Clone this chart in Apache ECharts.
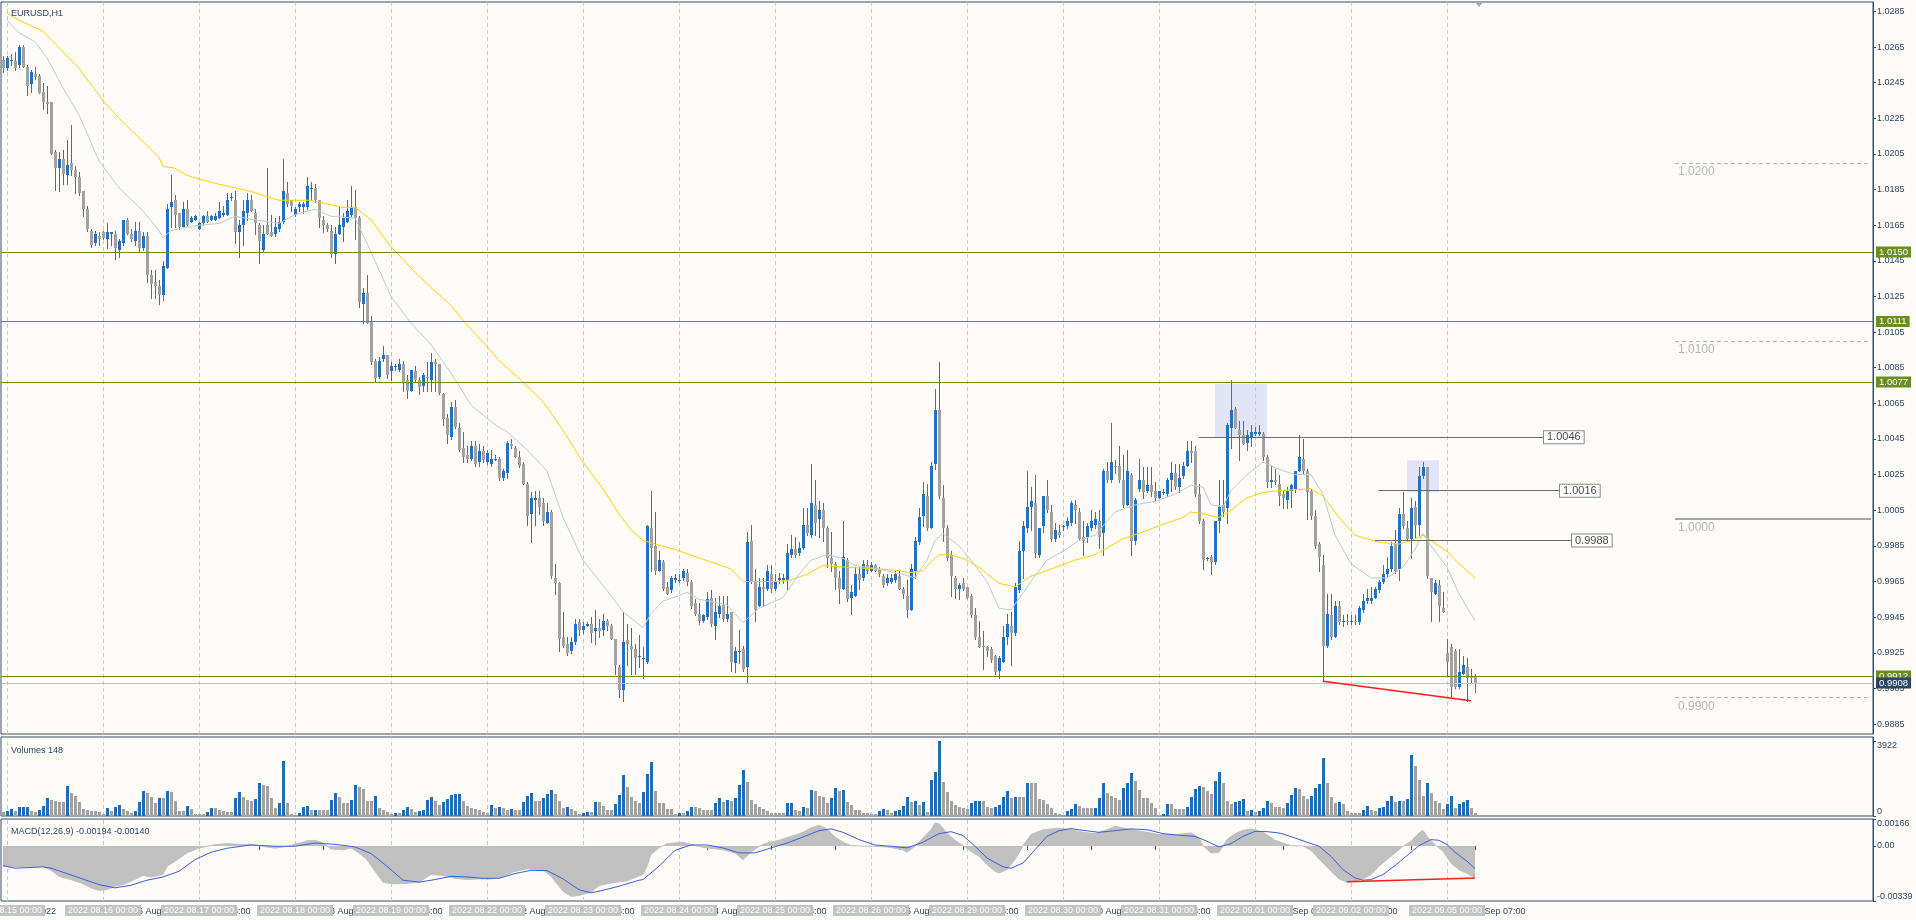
<!DOCTYPE html>
<html><head><meta charset="utf-8">
<script src="https://cdn.jsdelivr.net/npm/echarts@6/dist/echarts.min.js"></script>
<style>html,body{margin:0;padding:0;background:#fefbf9;}#c{width:1916px;height:920px;}</style>
</head><body><div id="c"></div>
<script>
const FONT = 'Liberation Sans';
const TXT = '#2b4763';
const BORDER = '#35506b';

const days = ['2022.08.15','2022.08.16','2022.08.17','2022.08.18','2022.08.19','2022.08.22','2022.08.23','2022.08.24','2022.08.25','2022.08.26','2022.08.29','2022.08.30','2022.08.31','2022.09.01','2022.09.02','2022.09.05'];
const firstBar = '2022.08.12 23:00';
const barsLastDay = 8;
const blankSlots = 99;

const priceTicks = [0.9885,0.9905,0.9925,0.9945,0.9965,0.9985,1.0005,1.0025,1.0045,1.0065,1.0085,1.0105,1.0125,1.0145,1.0165,1.0185,1.0205,1.0225,1.0245,1.0265,1.0285];
const volTicks = [0, 3922];
const macdTicks = [-0.00339, 0, 0.00166];

// [open, high, low, close]
const ohlc = [
[1.0258,1.0260,1.0251,1.0253],[1.0253,1.0260,1.0252,1.0259],[1.0258,1.0261,1.0255,1.0258],[1.0257,1.0262,1.0252,1.0253],[1.0255,1.0266,1.0254,1.0265],
[1.0265,1.0266,1.0254,1.0254],[1.0254,1.0255,1.0238,1.0243],[1.0244,1.0252,1.0240,1.0251],[1.0250,1.0254,1.0247,1.0248],[1.0249,1.0250,1.0239,1.0239],
[1.0240,1.0245,1.0230,1.0234],[1.0234,1.0243,1.0228,1.0233],[1.0234,1.0234,1.0205,1.0205],[1.0206,1.0207,1.0185,1.0197],[1.0197,1.0206,1.0184,1.0202],
[1.0202,1.0207,1.0188,1.0194],[1.0193,1.0213,1.0188,1.0199],[1.0200,1.0221,1.0193,1.0196],[1.0196,1.0198,1.0183,1.0192],[1.0192,1.0195,1.0182,1.0183],
[1.0184,1.0184,1.0170,1.0174],[1.0174,1.0176,1.0162,1.0163],[1.0162,1.0163,1.0153,1.0154],[1.0155,1.0162,1.0154,1.0160],[1.0159,1.0161,1.0154,1.0157],
[1.0161,1.0162,1.0157,1.0158],[1.0157,1.0166,1.0152,1.0161],[1.0160,1.0161,1.0154,1.0161],[1.0160,1.0162,1.0146,1.0152],[1.0151,1.0157,1.0147,1.0156],
[1.0155,1.0168,1.0154,1.0168],[1.0168,1.0169,1.0160,1.0160],[1.0160,1.0163,1.0156,1.0157],[1.0156,1.0167,1.0154,1.0162],[1.0162,1.0167,1.0150,1.0152],
[1.0152,1.0161,1.0151,1.0159],[1.0159,1.0161,1.0133,1.0137],[1.0137,1.0140,1.0124,1.0132],[1.0133,1.0140,1.0124,1.0131],[1.0131,1.0134,1.0121,1.0126],
[1.0126,1.0145,1.0123,1.0142],[1.0141,1.0177,1.0141,1.0174],[1.0175,1.0193,1.0164,1.0178],[1.0179,1.0182,1.0164,1.0171],[1.0172,1.0172,1.0163,1.0164],
[1.0164,1.0178,1.0164,1.0174],[1.0174,1.0179,1.0165,1.0165],[1.0167,1.0170,1.0167,1.0169],[1.0168,1.0171,1.0168,1.0170],[1.0163,1.0167,1.0163,1.0166],
[1.0166,1.0171,1.0165,1.0170],[1.0170,1.0173,1.0167,1.0167],[1.0168,1.0171,1.0168,1.0170],[1.0168,1.0172,1.0168,1.0170],[1.0169,1.0178,1.0169,1.0173],
[1.0171,1.0176,1.0170,1.0172],[1.0171,1.0183,1.0171,1.0179],[1.0180,1.0183,1.0179,1.0181],[1.0179,1.0184,1.0155,1.0161],[1.0161,1.0168,1.0147,1.0165],
[1.0165,1.0179,1.0154,1.0173],[1.0172,1.0183,1.0168,1.0179],[1.0179,1.0182,1.0173,1.0173],[1.0172,1.0174,1.0160,1.0166],[1.0165,1.0166,1.0144,1.0156],
[1.0151,1.0165,1.0150,1.0160],[1.0165,1.0197,1.0160,1.0160],[1.0161,1.0171,1.0159,1.0159],[1.0160,1.0169,1.0159,1.0164],[1.0163,1.0170,1.0162,1.0167],
[1.0167,1.0202,1.0166,1.0184],[1.0183,1.0189,1.0176,1.0177],[1.0179,1.0179,1.0173,1.0176],[1.0171,1.0175,1.0170,1.0174],[1.0175,1.0178,1.0173,1.0177],
[1.0175,1.0178,1.0172,1.0177],[1.0175,1.0192,1.0174,1.0187],[1.0186,1.0189,1.0179,1.0186],[1.0186,1.0188,1.0178,1.0179],[1.0179,1.0179,1.0164,1.0169],
[1.0168,1.0170,1.0161,1.0165],[1.0165,1.0166,1.0162,1.0163],[1.0162,1.0165,1.0147,1.0149],[1.0149,1.0164,1.0144,1.0160],[1.0160,1.0175,1.0160,1.0165],
[1.0164,1.0172,1.0156,1.0169],[1.0167,1.0179,1.0167,1.0173],[1.0171,1.0187,1.0170,1.0175],[1.0175,1.0185,1.0157,1.0169],[1.0169,1.0170,1.0119,1.0122],
[1.0121,1.0130,1.0110,1.0127],[1.0127,1.0137,1.0110,1.0110],[1.0111,1.0114,1.0087,1.0088],[1.0089,1.0090,1.0077,1.0079],[1.0080,1.0091,1.0079,1.0089],
[1.0090,1.0097,1.0089,1.0092],[1.0092,1.0092,1.0079,1.0081],[1.0083,1.0088,1.0078,1.0086],[1.0086,1.0087,1.0084,1.0086],[1.0084,1.0090,1.0083,1.0087],
[1.0087,1.0089,1.0072,1.0077],[1.0078,1.0081,1.0068,1.0072],[1.0072,1.0084,1.0072,1.0084],[1.0083,1.0086,1.0077,1.0078],[1.0078,1.0080,1.0070,1.0074],
[1.0075,1.0082,1.0072,1.0081],[1.0080,1.0088,1.0072,1.0079],[1.0078,1.0093,1.0072,1.0088],[1.0088,1.0090,1.0072,1.0087],[1.0087,1.0087,1.0070,1.0071],
[1.0070,1.0071,1.0053,1.0056],[1.0057,1.0059,1.0043,1.0047],[1.0046,1.0066,1.0045,1.0063],[1.0063,1.0067,1.0051,1.0052],[1.0051,1.0054,1.0038,1.0039],
[1.0040,1.0049,1.0032,1.0035],[1.0036,1.0041,1.0032,1.0034],[1.0034,1.0044,1.0033,1.0041],[1.0041,1.0044,1.0030,1.0031],[1.0032,1.0042,1.0030,1.0038],
[1.0038,1.0041,1.0032,1.0033],[1.0032,1.0039,1.0031,1.0037],[1.0031,1.0039,1.0030,1.0034],[1.0034,1.0036,1.0033,1.0034],[1.0034,1.0035,1.0022,1.0023],
[1.0023,1.0028,1.0022,1.0027],[1.0026,1.0044,1.0023,1.0043],[1.0042,1.0045,1.0040,1.0041],[1.0040,1.0041,1.0035,1.0035],[1.0035,1.0038,1.0029,1.0030],
[1.0031,1.0032,1.0020,1.0020],[1.0020,1.0021,0.9997,1.0002],[1.0003,1.0015,0.9987,1.0012],[1.0011,1.0016,0.9997,1.0012],[1.0012,1.0016,1.0003,1.0007],
[1.0009,1.0012,0.9997,0.9999],[0.9998,1.0009,0.9998,1.0004],[1.0004,1.0005,0.9967,0.9968],[0.9967,0.9975,0.9958,0.9964],[0.9964,0.9965,0.9926,0.9933],
[0.9934,0.9948,0.9928,0.9929],[0.9930,0.9934,0.9924,0.9925],[0.9926,0.9934,0.9925,0.9931],[0.9931,0.9944,0.9930,0.9941],[0.9942,0.9944,0.9935,0.9938],
[0.9938,0.9942,0.9936,0.9940],[0.9940,0.9942,0.9940,0.9941],[0.9941,0.9945,0.9931,0.9936],[0.9937,0.9949,0.9930,0.9939],[0.9939,0.9944,0.9934,0.9937],
[0.9938,0.9947,0.9935,0.9943],[0.9943,0.9944,0.9938,0.9940],[0.9940,0.9941,0.9933,0.9933],[0.9933,0.9933,0.9913,0.9918],[0.9917,0.9918,0.9900,0.9904],
[0.9904,0.9948,0.9898,0.9931],[0.9932,0.9941,0.9918,0.9930],[0.9929,0.9939,0.9913,0.9927],[0.9927,0.9930,0.9913,0.9922],[0.9923,0.9935,0.9917,0.9923],
[0.9922,0.9928,0.9911,0.9922],[0.9920,0.9997,0.9919,0.9996],[0.9995,1.0016,0.9971,0.9984],[0.9985,1.0004,0.9969,0.9971],[0.9971,0.9982,0.9971,0.9977],
[0.9976,0.9977,0.9960,0.9961],[0.9962,0.9965,0.9958,0.9958],[0.9960,0.9968,0.9959,0.9967],[0.9966,0.9969,0.9965,0.9967],[0.9966,0.9969,0.9965,0.9966],
[0.9967,0.9972,0.9966,0.9971],[0.9970,0.9972,0.9963,0.9965],[0.9965,0.9966,0.9950,0.9951],[0.9953,0.9955,0.9946,0.9947],[0.9947,0.9953,0.9941,0.9943],
[0.9943,0.9947,0.9942,0.9946],[0.9945,0.9959,0.9944,0.9955],[0.9956,0.9960,0.9940,0.9941],[0.9940,0.9956,0.9933,0.9948],[0.9947,0.9957,0.9945,0.9951],
[0.9952,0.9957,0.9943,0.9944],[0.9944,0.9957,0.9943,0.9947],[0.9948,0.9948,0.9915,0.9920],[0.9919,0.9928,0.9914,0.9926],[0.9926,0.9938,0.9919,0.9926],
[0.9927,0.9929,0.9915,0.9916],[0.9917,0.9993,0.9908,0.9987],[0.9988,0.9997,0.9964,0.9965],[0.9965,0.9972,0.9943,0.9949],[0.9951,0.9967,0.9951,0.9962],
[0.9962,0.9967,0.9951,0.9961],[0.9961,0.9974,0.9960,0.9971],[0.9969,0.9974,0.9959,0.9961],[0.9961,0.9969,0.9960,0.9965],[0.9966,0.9970,0.9964,0.9967],
[0.9966,0.9969,0.9964,0.9967],[0.9966,0.9986,0.9961,0.9981],[0.9980,0.9991,0.9979,0.9983],[0.9983,0.9990,0.9979,0.9980],[0.9981,0.9987,0.9980,0.9984],
[0.9984,1.0006,0.9983,0.9997],[0.9997,1.0006,0.9991,0.9992],[0.9991,1.0031,0.9990,1.0009],[1.0008,1.0022,0.9991,0.9998],[1.0000,1.0010,0.9990,1.0005],
[1.0005,1.0009,0.9988,0.9995],[0.9995,0.9996,0.9973,0.9978],[0.9978,0.9993,0.9971,0.9975],[0.9975,0.9976,0.9961,0.9967],[0.9967,0.9971,0.9953,0.9961],
[0.9961,0.9999,0.9961,0.9979],[0.9977,0.9978,0.9954,0.9955],[0.9956,0.9963,0.9947,0.9959],[0.9957,0.9973,0.9957,0.9969],[0.9969,0.9973,0.9961,0.9966],
[0.9967,0.9977,0.9966,0.9975],[0.9974,0.9977,0.9970,0.9971],[0.9971,0.9976,0.9971,0.9974],[0.9974,0.9975,0.9971,0.9971],[0.9972,0.9973,0.9968,0.9969],
[0.9968,0.9969,0.9962,0.9963],[0.9964,0.9969,0.9963,0.9967],[0.9965,0.9969,0.9964,0.9967],[0.9966,0.9971,0.9965,0.9969],[0.9968,0.9971,0.9961,0.9961],
[0.9961,0.9962,0.9956,0.9958],[0.9957,0.9966,0.9945,0.9949],[0.9949,0.9975,0.9949,0.9972],[0.9971,0.9990,0.9967,0.9988],[0.9987,1.0006,0.9986,1.0001],
[1.0002,1.0021,0.9996,1.0014],[1.0013,1.0020,0.9994,0.9995],[0.9995,1.0032,0.9995,1.0030],[1.0031,1.0073,1.0028,1.0061],[1.0061,1.0088,1.0012,1.0013],
[1.0012,1.0019,0.9988,0.9995],[0.9995,0.9997,0.9977,0.9978],[0.9980,0.9982,0.9957,0.9968],[0.9967,0.9968,0.9956,0.9961],[0.9961,0.9964,0.9955,0.9963],
[0.9964,0.9967,0.9960,0.9961],[0.9962,0.9962,0.9956,0.9956],[0.9957,0.9958,0.9945,0.9946],[0.9946,0.9950,0.9933,0.9934],[0.9934,0.9943,0.9928,0.9928],
[0.9929,0.9937,0.9916,0.9928],[0.9928,0.9929,0.9923,0.9926],[0.9927,0.9928,0.9920,0.9921],[0.9923,0.9924,0.9913,0.9914],[0.9915,0.9923,0.9911,0.9922],
[0.9920,0.9940,0.9920,0.9934],[0.9934,0.9947,0.9930,0.9941],[0.9940,0.9948,0.9918,0.9936],[0.9936,0.9964,0.9935,0.9962],[0.9960,0.9988,0.9959,0.9982],
[0.9982,0.9999,0.9967,0.9996],[0.9995,1.0027,0.9993,1.0007],[1.0007,1.0018,0.9994,1.0010],[1.0009,1.0025,0.9979,0.9981],[0.9980,0.9995,0.9979,0.9995],
[0.9996,1.0013,0.9993,1.0013],[1.0013,1.0022,1.0004,1.0005],[1.0004,1.0008,0.9988,0.9989],[0.9989,0.9998,0.9988,0.9994],[0.9993,0.9997,0.9990,0.9991],
[0.9996,0.9997,0.9994,0.9996],[0.9996,1.0001,0.9995,0.9999],[0.9998,1.0010,0.9997,1.0009],[1.0008,1.0011,0.9998,1.0005],[1.0004,1.0006,0.9989,0.9989],
[0.9990,0.9999,0.9980,0.9988],[0.9990,0.9998,0.9987,0.9996],[0.9995,1.0005,0.9994,0.9999],[0.9997,1.0004,0.9995,1.0000],[0.9999,1.0005,0.9984,0.9990],
[0.9992,1.0028,0.9980,1.0027],[1.0027,1.0032,1.0021,1.0022],[1.0022,1.0054,1.0021,1.0032],[1.0030,1.0033,1.0026,1.0029],[1.0030,1.0041,1.0021,1.0022],
[1.0022,1.0036,1.0007,1.0008],[1.0008,1.0039,1.0008,1.0027],[1.0025,1.0026,0.9980,0.9988],[0.9988,1.0012,0.9986,1.0011],[1.0017,1.0034,1.0016,1.0022],
[1.0022,1.0029,1.0012,1.0015],[1.0016,1.0029,1.0015,1.0019],[1.0019,1.0029,1.0013,1.0015],[1.0016,1.0021,1.0011,1.0012],[1.0012,1.0016,1.0012,1.0016],
[1.0015,1.0017,1.0014,1.0015],[1.0014,1.0023,1.0013,1.0022],[1.0022,1.0032,1.0016,1.0026],[1.0026,1.0031,1.0017,1.0018],[1.0018,1.0031,1.0015,1.0023],
[1.0024,1.0032,1.0023,1.0030],[1.0030,1.0044,1.0030,1.0038],[1.0038,1.0044,1.0032,1.0037],[1.0038,1.0041,1.0013,1.0014],[1.0014,1.0020,0.9998,0.9999],
[0.9999,1.0000,0.9972,0.9977],[0.9978,0.9979,0.9977,0.9978],[0.9979,0.9980,0.9969,0.9976],[0.9976,0.9999,0.9975,0.9999],[0.9999,1.0022,0.9993,1.0007],
[1.0008,1.0022,1.0002,1.0004],[1.0006,1.0054,0.9998,1.0053],[1.0051,1.0078,1.0040,1.0061],[1.0062,1.0063,1.0051,1.0051],[1.0050,1.0055,1.0033,1.0047],
[1.0047,1.0055,1.0042,1.0042],[1.0043,1.0050,1.0039,1.0047],[1.0046,1.0053,1.0041,1.0049],[1.0048,1.0052,1.0047,1.0049],[1.0048,1.0053,1.0047,1.0049],
[1.0048,1.0049,1.0033,1.0035],[1.0035,1.0036,1.0018,1.0021],[1.0021,1.0030,1.0018,1.0022],[1.0022,1.0028,1.0020,1.0021],[1.0020,1.0025,1.0008,1.0013],
[1.0014,1.0016,1.0006,1.0012],[1.0011,1.0018,1.0006,1.0016],[1.0016,1.0020,1.0007,1.0019],[1.0017,1.0027,1.0015,1.0027],[1.0027,1.0047,1.0027,1.0035],
[1.0034,1.0045,1.0026,1.0027],[1.0027,1.0028,1.0000,1.0015],[1.0016,1.0017,1.0000,1.0002],[1.0002,1.0005,0.9984,0.9985],[0.9986,0.9987,0.9971,0.9979],
[0.9974,0.9980,0.9909,0.9929],[0.9929,0.9958,0.9928,0.9947],[0.9946,0.9958,0.9933,0.9934],[0.9934,0.9954,0.9934,0.9951],[0.9951,0.9954,0.9941,0.9942],
[0.9942,0.9946,0.9940,0.9943],[0.9943,0.9947,0.9941,0.9942],[0.9942,0.9946,0.9941,0.9943],[0.9943,0.9946,0.9941,0.9942],[0.9942,0.9951,0.9941,0.9950],
[0.9949,0.9958,0.9948,0.9954],[0.9954,0.9961,0.9953,0.9956],[0.9954,0.9962,0.9953,0.9956],[0.9956,0.9962,0.9956,0.9961],[0.9960,0.9966,0.9959,0.9965],
[0.9965,0.9974,0.9964,0.9969],[0.9969,0.9979,0.9968,0.9972],[0.9972,0.9987,0.9971,0.9985],[0.9986,0.9994,0.9970,0.9971],[0.9972,1.0006,0.9966,1.0003],
[1.0003,1.0015,0.9995,0.9996],[0.9995,0.9999,0.9988,0.9989],[0.9989,1.0012,0.9978,1.0006],[1.0007,1.0010,0.9990,0.9997],[0.9997,1.0029,0.9991,1.0024],
[1.0024,1.0032,1.0023,1.0029],[1.0029,1.0029,0.9967,0.9968],[0.9967,0.9967,0.9943,0.9959],[0.9958,0.9966,0.9958,0.9964],[0.9963,0.9966,0.9943,0.9951],
[0.9950,0.9959,0.9948,0.9948],[0.9925,0.9933,0.9912,0.9920],[0.9928,0.9930,0.9901,0.9906],[0.9926,0.9927,0.9905,0.9906],[0.9906,0.9927,0.9905,0.9914],
[0.9913,0.9923,0.9913,0.9918],[0.9917,0.9922,0.9898,0.9911],[0.9912,0.9916,0.9908,0.9911],[0.9912,0.9913,0.9903,0.9908]
];

const volumes = [
230,265,371,265,465,470,477,265,230,318,548,954,830,795,707,707,1590,1184,1060,707,
371,336,265,265,230,124,406,265,477,583,371,265,159,265,707,1325,1184,1007,654,937,
937,1325,1237,795,265,265,512,389,124,124,124,212,406,406,336,265,230,230,954,1237,
1007,830,795,901,1749,1643,1555,919,406,654,2863,654,124,53,177,477,530,300,318,318,
318,300,848,1184,972,654,654,848,1643,1502,1414,795,795,1060,442,300,212,88,159,159,
336,495,353,230,265,300,830,1007,760,583,742,884,1113,1131,1166,795,530,442,353,300,
230,177,583,442,477,406,300,353,300,300,724,1060,1219,795,795,919,1149,1361,1149,795,
442,477,353,265,124,177,230,230,707,707,530,300,300,618,1113,2120,1502,972,795,654,
1237,2173,2810,1325,654,654,371,371,88,159,159,265,477,477,406,300,300,300,654,937,
707,830,795,937,1643,2421,1767,830,618,477,353,265,177,177,141,141,654,689,300,265,
477,406,1378,1290,1060,1007,654,954,1484,1290,1378,742,583,300,300,159,159,124,124,265,
353,300,177,265,300,530,1007,742,760,583,742,230,1908,2297,3922,1767,1272,795,583,477,
406,353,689,760,795,795,477,406,477,583,1007,1325,919,1007,1007,1007,1714,1714,1714,884,
830,618,406,141,88,53,265,353,618,530,442,442,406,442,937,1749,1184,1060,937,830,
1467,1714,2244,1855,1361,937,937,654,406,18,124,618,618,353,353,353,477,972,1431,1555,
1502,1325,1149,1838,2279,1749,795,618,724,795,866,265,300,230,265,406,795,654,477,477,
406,654,1113,1467,1396,1060,901,1043,1467,1679,3039,1749,1007,689,724,618,265,159,159,159,
300,512,336,265,442,477,795,1060,742,760,760,884,3198,2597,1908,1060,1749,1219,760,654,
353,618,1060,406,618,742,830,406,148
];

// moving averages read at sample bars: [bar, price]
const maSlow = [[1,1.0284],[4,1.0280],[10,1.0274],[13,1.0267],[19,1.0253],[25,1.0235],[29,1.0225],[35,1.0212],[39,1.0203],[40,1.0198],[43,1.0197],[46,1.0193],[49,1.0191],[54,1.0188],[58,1.0186],[62,1.0184],[66,1.0181],[69,1.0179],[77,1.0179],[81,1.0177],[85,1.0175],[88,1.0175],[92,1.0168],[97,1.0153],[102,1.0141],[107,1.0130],[112,1.0120],[116,1.0109],[121,1.0097],[124,1.0089],[130,1.0077],[135,1.0066],[140,1.0050],[145,1.0032],[150,1.0017],[154,1.0003],[157,0.9994],[160,0.9988],[163,0.9986],[168,0.9983],[173,0.9979],[177,0.9976],[182,0.9972],[185,0.9965],[194,0.9965],[197,0.9966],[201,0.9969],[205,0.9974],[211,0.9973],[219,0.9972],[224,0.9971],[227,0.9970],[230,0.9971],[232,0.9976],[234,0.9980],[237,0.9980],[241,0.9977],[244,0.9973],[249,0.9964],[253,0.9962],[257,0.9968],[262,0.9972],[268,0.9977],[273,0.9980],[280,0.9989],[284,0.9992],[290,0.9997],[295,1.0001],[297,1.0004],[300,1.0003],[304,1.0001],[307,1.0005],[311,1.0012],[315,1.0015],[319,1.0016],[327,1.0017],[330,1.0013],[334,1.0001],[338,0.9991],[344,0.9987],[349,0.9986],[352,0.9988],[355,0.9991],[357,0.9988],[361,0.9982],[364,0.9975],[368,0.9967]];
const maFast = [[1,1.0280],[4,1.0273],[8,1.0268],[11,1.0259],[15,1.0242],[19,1.0227],[24,1.0201],[29,1.0186],[35,1.0173],[39,1.0162],[40,1.0158],[42,1.0162],[46,1.0164],[49,1.0165],[54,1.0166],[58,1.0170],[63,1.0168],[69,1.0166],[73,1.0171],[78,1.0174],[82,1.0170],[88,1.0169],[92,1.0150],[97,1.0125],[102,1.0110],[107,1.0098],[112,1.0082],[117,1.0064],[123,1.0053],[126,1.0049],[131,1.0039],[136,1.0027],[140,1.0001],[145,0.9977],[151,0.9960],[155,0.9948],[160,0.9939],[162,0.9947],[165,0.9954],[169,0.9957],[171,0.9959],[174,0.9955],[181,0.9952],[185,0.9942],[189,0.9950],[195,0.9956],[199,0.9969],[202,0.9977],[206,0.9980],[210,0.9978],[213,0.9974],[219,0.9972],[225,0.9969],[228,0.9967],[231,0.9977],[233,0.9988],[235,0.9992],[239,0.9985],[242,0.9977],[246,0.9965],[249,0.9950],[252,0.9949],[257,0.9965],[261,0.9977],[265,0.9982],[269,0.9988],[273,0.9991],[278,1.0004],[283,1.0008],[288,1.0010],[293,1.0014],[297,1.0019],[300,1.0018],[302,1.0008],[305,1.0007],[307,1.0016],[311,1.0025],[315,1.0032],[319,1.0028],[323,1.0025],[327,1.0025],[330,1.0014],[333,0.9991],[337,0.9975],[342,0.9967],[346,0.9967],[350,0.9973],[353,0.9983],[355,0.9992],[357,0.9985],[361,0.9973],[364,0.9958],[368,0.9943]];

// MACD read at sample bars: [bar, value]
const macdMain = [[0,-0.00125],[5,-0.00129],[10,-0.00125],[12,-0.0015],[14,-0.00187],[17,-0.00207],[20,-0.00232],[22,-0.00258],[24,-0.00273],[26,-0.00269],[28,-0.00248],[30,-0.00238],[32,-0.00217],[35,-0.00182],[37,-0.00191],[40,-0.00176],[41,-0.00125],[43,-0.00094],[46,-0.00043],[49,-0.00012],[53,0.00008],[56,0.00014],[59,0.0001],[62,0.0001],[65,-0.00002],[68,-0.00014],[71,-0.00002],[73,0.0001],[76,0.00031],[78,0.00035],[80,0.00018],[82,-0.00018],[85,-0.00023],[87,-0.00012],[89,-0.00043],[91,-0.00084],[93,-0.00156],[95,-0.00223],[97,-0.00232],[100,-0.00232],[104,-0.00223],[107,-0.00176],[110,-0.00182],[113,-0.00199],[116,-0.00207],[119,-0.00203],[122,-0.00203],[125,-0.00187],[128,-0.00156],[131,-0.00141],[135,-0.00146],[137,-0.00187],[140,-0.00279],[142,-0.0031],[144,-0.00305],[147,-0.00285],[149,-0.00244],[152,-0.00228],[156,-0.00215],[159,-0.00185],[160,-0.00176],[161,-0.00125],[162,-0.00053],[164,-0.00012],[166,0.00014],[170,0.00023],[173,0.00002],[176,-0.00012],[180,-0.00023],[183,-0.00043],[185,-0.00084],[187,-0.00039],[189,-0.00002],[191,0.00018],[194,0.00035],[197,0.00059],[200,0.00084],[202,0.00111],[204,0.00127],[206,0.00105],[208,0.00055],[210,0.00023],[212,0.00002],[216,-0.00002],[221,-0.00006],[225,-0.00023],[226,-0.00039],[228,-0.00002],[230,0.00049],[232,0.001],[233,0.00141],[234,0.00137],[236,0.0008],[238,0.00035],[240,0.00002],[242,-0.00033],[244,-0.00064],[246,-0.00115],[248,-0.00156],[249,-0.00166],[251,-0.00146],[253,-0.00084],[255,0.00002],[257,0.0007],[260,0.001],[264,0.00109],[267,0.001],[270,0.00084],[273,0.00076],[276,0.001],[278,0.00121],[280,0.00111],[283,0.00096],[286,0.00084],[289,0.0007],[293,0.0007],[297,0.0008],[299,0.00049],[300,0.00002],[302,-0.00043],[304,-0.00039],[306,0.00039],[308,0.00076],[310,0.00096],[312,0.00105],[315,0.00084],[318,0.00035],[320,0.00018],[322,0.00002],[325,0],[327,-0.00027],[329,-0.0008],[332,-0.00156],[334,-0.00203],[336,-0.00223],[338,-0.00217],[340,-0.00203],[342,-0.00176],[344,-0.00125],[346,-0.00084],[348,-0.00043],[350,-0.00002],[352,0.00029],[354,0.0008],[355,0.00096],[356,0.00059],[358,0.00008],[360,-0.00033],[362,-0.00105],[364,-0.00146],[366,-0.0017],[368,-0.00194]];
const macdSignal = [[0,-0.00121],[3,-0.00137],[10,-0.00129],[12,-0.00137],[18,-0.00187],[24,-0.00238],[28,-0.00258],[32,-0.00242],[36,-0.00211],[40,-0.00191],[44,-0.00156],[48,-0.00084],[52,-0.00039],[56,-0.00014],[62,0.00006],[68,-0.00002],[73,-0.00002],[78,0.00018],[83,0.0001],[88,-0.00006],[92,-0.00047],[96,-0.00125],[100,-0.00211],[104,-0.00223],[108,-0.00207],[112,-0.00187],[116,-0.00191],[120,-0.00199],[124,-0.00199],[128,-0.0017],[132,-0.0015],[136,-0.00152],[140,-0.00203],[144,-0.00269],[147,-0.00289],[150,-0.00273],[154,-0.00248],[159,-0.00211],[160,-0.00207],[164,-0.00125],[168,-0.00027],[172,0.00006],[176,0.00006],[180,-0.00012],[184,-0.00043],[188,-0.00043],[192,-0.00012],[196,0.00018],[200,0.00055],[204,0.00094],[207,0.00105],[210,0.00084],[214,0.00039],[218,0.00006],[222,-0.00002],[226,-0.00012],[230,0.00023],[234,0.00076],[237,0.00088],[240,0.00064],[243,-0.00002],[246,-0.00074],[250,-0.00129],[252,-0.00137],[255,-0.00105],[258,-0.00023],[261,0.00059],[264,0.00094],[267,0.00107],[270,0.00096],[274,0.00084],[278,0.00094],[282,0.00105],[286,0.001],[290,0.00076],[294,0.00066],[298,0.00059],[301,0.00029],[304,-0.00006],[307,0.00014],[310,0.00059],[313,0.0009],[316,0.00088],[319,0.0008],[320,0.00074],[323,0.00049],[326,0.00023],[329,-0.00002],[332,-0.00064],[335,-0.00146],[338,-0.00197],[340,-0.00211],[342,-0.00207],[345,-0.00176],[348,-0.00121],[351,-0.00059],[354,0.00002],[357,0.00039],[359,0.00035],[361,0.00008],[363,-0.00039],[366,-0.00094],[368,-0.0014]];

const hLevels = [1.0150, 1.0111, 1.0077, 0.9912];
const bidPrice = 0.9908;
const roundLevels = [1.0200, 1.0100, 1.0000, 0.9900];
const roundFrom = 418;
const trendLevels = [[299, 385, 1.0046], [344, 389, 1.0016], [343, 392, 0.9988]];
const boxes = [[303, 316, 1.0076, 1.0046], [351, 359, 1.0033, 1.0015]];
const priceDivergence = [[330, 0.9909], [367, 0.9898]];
const macdDivergence = [[336, -0.00221], [368, -0.00197]];

// ---- build categories ----
const MON = {'08': 'Aug', '09': 'Sep'};
const times = [firstBar];
days.forEach((d, k) => {
  const n = k === days.length - 1 ? barsLastDay : 24;
  for (let h = 0; h < n; h++) times.push(d + ' ' + String(h).padStart(2, '0') + ':00');
});
const cats = times.slice();
for (let k = 0; k < blankSlots; k++) cats.push('blank' + k);
const lastBar = times.length - 1;
const dayStarts = [];
times.forEach((t, i) => { if (t.endsWith(' 00:00')) dayStarts.push(i); });
const dayStartSet = new Set(dayStarts);
function shortLabel(t, i) {
  const parts = t.split(' '); const ymd = parts[0].split('.');
  return parseInt(ymd[2], 10) + ' ' + MON[ymd[1]] + ' ' + (i === 0 ? ymd[0] : parts[1]);
}
const isTick = (i) => i % 16 === 0 && i <= lastBar;
function onBars(samples) {
  const arr = new Array(times.length).fill(null);
  samples.forEach(s => { arr[s[0]] = s[1]; });
  return arr;
}

const candleData = ohlc.map((r, i) => [i, r[0], r[1], r[2], r[3]]);
const volData = volumes.map((v, i) => [i, v, i > 0 && v > volumes[i - 1] ? 1 : 0]);

const BULL = '#2272c3', BEAR = '#a2a2a2', WICK = '#5f6a6a';
const sepLine = (z) => ({
  silent: true, symbol: 'none', z: z, label: {show: false},
  lineStyle: {color: '#c9c9c9', type: [4, 3], width: 1},
  data: dayStarts.map(i => ({xAxis: i}))
});
const smallTxt = {fontFamily: FONT, fontSize: 9, color: TXT};

const levelMarks = [];
hLevels.forEach(p => levelMarks.push({
  name: 'lvl' + p, yAxis: p, lineStyle: {color: '#6b8e23', width: 1, type: 'solid'},
  label: {show: true, position: 'end', distance: 3, formatter: p.toFixed(4), backgroundColor: '#6b8e23', color: '#ffffff', padding: [1, 3, 0, 3], fontFamily: FONT, fontSize: 9.5}
}));
levelMarks.push({
  name: 'bid', yAxis: bidPrice, lineStyle: {color: '#c0c0c0', width: 1, type: 'solid'},
  label: {show: true, position: 'end', distance: 3, formatter: bidPrice.toFixed(4), backgroundColor: '#2a4866', color: '#ffffff', padding: [1, 3, 0, 3], fontFamily: FONT, fontSize: 9.5}
});

const segMarks = [];
roundLevels.forEach(p => segMarks.push([
  {coord: [roundFrom, p], lineStyle: {color: p === 1 ? '#a6a6a6' : '#b4b4b4', width: p === 1 ? 2 : 1, type: p === 1 ? 'solid' : [4, 3]},
   label: {show: true, position: 'insideStartBottom', distance: 3, formatter: p.toFixed(4), color: '#b6b6b6', fontFamily: FONT, fontSize: 12}},
  {coord: [cats.length - 1, p]}
]));
trendLevels.forEach(t => segMarks.push([
  {coord: [t[0], t[2]], lineStyle: {color: '#6a6a6a', width: 1, type: 'solid'},
   label: {show: true, position: 'end', distance: 1, formatter: t[2].toFixed(4), color: '#4a4a4a', backgroundColor: '#ffffff', borderColor: '#8a8a8a', borderWidth: 1, padding: [1, 3, 0, 3], fontFamily: FONT, fontSize: 11}},
  {coord: [t[1], t[2]]}
]));
segMarks.push([
  {coord: priceDivergence[0], lineStyle: {color: '#ff1a1a', width: 1.5, type: 'solid'}, label: {show: false}},
  {coord: priceDivergence[1]}
]);

const gridBase = {left: 1, right: 43, show: true, borderColor: BORDER, borderWidth: 1, backgroundColor: '#fefbf9', containLabel: false, outerBoundsMode: 'none'};

const chart = echarts.init(document.getElementById('c'), null, {renderer: 'canvas'});
const option = {
  animation: false,
  backgroundColor: '#fefbf9',
  title: [
    {text: 'EURUSD,H1', left: 6, top: 4, textStyle: Object.assign({fontWeight: 'normal'}, smallTxt)},
    {text: 'Volumes ' + volumes[volumes.length - 1], left: 6, top: 741, textStyle: Object.assign({fontWeight: 'normal'}, smallTxt)},
    {text: 'MACD(12,26,9) ' + macdMain[macdMain.length - 1][1].toFixed(5) + ' ' + macdSignal[macdSignal.length - 1][1].toFixed(5), left: 6, top: 822, textStyle: Object.assign({fontWeight: 'normal'}, smallTxt)}
  ],
  grid: [
    Object.assign({top: 2, height: 732}, gridBase),
    Object.assign({top: 737, height: 79}, gridBase),
    Object.assign({top: 819, height: 82}, gridBase)
  ],
  xAxis: [
    {type: 'category', gridIndex: 0, data: cats, boundaryGap: true, axisLine: {show: false}, axisTick: {show: false}, axisLabel: {show: false}, splitLine: {show: false}},
    {type: 'category', gridIndex: 1, data: cats, boundaryGap: true, axisLine: {show: false}, axisTick: {show: false}, axisLabel: {show: false}, splitLine: {show: false}},
    {type: 'category', gridIndex: 2, data: cats, boundaryGap: true, position: 'bottom',
     axisLine: {show: false},
     axisTick: {show: true, alignWithLabel: true, length: 4, interval: (i) => isTick(i), lineStyle: {color: BORDER}},
     axisLabel: {show: true, interval: (i) => isTick(i), formatter: (v, i) => shortLabel(v, i), align: 'left', margin: 6, padding: [0, 0, 0, 2], fontFamily: FONT, fontSize: 9, color: TXT},
     splitLine: {show: false}},
    {type: 'category', gridIndex: 2, data: cats, boundaryGap: true, position: 'bottom', z: 10,
     axisLine: {show: false}, axisTick: {show: false},
     axisLabel: {show: true, interval: (i) => dayStartSet.has(i), formatter: (v) => v, align: 'center', margin: 4, padding: [1, 3, 1, 3], backgroundColor: '#c3c3c3', color: '#ffffff', fontFamily: FONT, fontSize: 9},
     splitLine: {show: false}}
  ],
  yAxis: [
    {type: 'value', gridIndex: 0, position: 'right', min: 0.98794, max: 1.02903, scale: true,
     axisLine: {show: true, lineStyle: {color: BORDER}},
     axisTick: {show: true, length: 3, customValues: priceTicks, lineStyle: {color: BORDER}},
     axisLabel: {show: true, customValues: priceTicks, formatter: (v) => v.toFixed(4), margin: 4, fontFamily: FONT, fontSize: 9, color: TXT},
     splitLine: {show: false}},
    {type: 'value', gridIndex: 1, position: 'right', min: 0, max: 4131,
     axisLine: {show: true, lineStyle: {color: BORDER}},
     axisTick: {show: true, length: 3, customValues: volTicks, lineStyle: {color: BORDER}},
     axisLabel: {show: true, customValues: volTicks, formatter: (v) => String(v), margin: 4, fontFamily: FONT, fontSize: 9, color: TXT, verticalAlignMaxLabel: 'top', verticalAlignMinLabel: 'bottom'},
     splitLine: {show: false}},
    {type: 'value', gridIndex: 2, position: 'right', min: -0.00339, max: 0.00166,
     axisLine: {show: true, lineStyle: {color: BORDER}},
     axisTick: {show: true, length: 3, customValues: macdTicks, lineStyle: {color: BORDER}},
     axisLabel: {show: true, customValues: macdTicks, formatter: (v) => v === 0 ? '0.00' : v.toFixed(5), margin: 4, fontFamily: FONT, fontSize: 9, color: TXT, verticalAlignMaxLabel: 'top', verticalAlignMinLabel: 'bottom'},
     splitLine: {show: false}}
  ],
  series: [
    {name: 'candles', type: 'custom', xAxisIndex: 0, yAxisIndex: 0, z: 3, silent: true, clip: true,
     data: candleData, encode: {x: 0, y: [1, 2, 3, 4]},
     renderItem: function (params, api) {
       const i = api.value(0), o = api.value(1), h = api.value(2), l = api.value(3), c = api.value(4);
       const pO = api.coord([i, o]), pC = api.coord([i, c]), pH = api.coord([i, h]), pL = api.coord([i, l]);
       const cx = Math.round(pO[0]);
       const top = Math.round(Math.min(pO[1], pC[1]));
       const bot = Math.round(Math.max(pO[1], pC[1]));
       return {type: 'group', children: [
         {type: 'line', shape: {x1: cx + 0.5, y1: Math.round(pH[1]), x2: cx + 0.5, y2: Math.round(pL[1]) + 1}, style: {stroke: WICK, lineWidth: 1}},
         {type: 'rect', shape: {x: cx - 1, y: top, width: 3, height: Math.max(1, bot - top)}, style: {fill: c >= o ? BULL : BEAR}}
       ]};
     }
    },
    {name: 'levels', type: 'line', xAxisIndex: 0, yAxisIndex: 0, z: 5, silent: true, data: [], symbol: 'none',
     markLine: {silent: true, symbol: 'none', z: 5, precision: 4, data: levelMarks}
    },
    {name: 'MA slow', type: 'line', xAxisIndex: 0, yAxisIndex: 0, z: 4, silent: true, data: onBars(maSlow), connectNulls: true, showSymbol: false, symbol: 'none',
     lineStyle: {color: '#ffd200', width: 1},
     markArea: {silent: true, z: 1, itemStyle: {color: '#e2e5f8'}, data: boxes.map(b => [{coord: [b[0], b[2]]}, {coord: [b[1], b[3]]}])},
     markLine: sepLine(1)
    },
    {name: 'MA fast', type: 'line', xAxisIndex: 0, yAxisIndex: 0, z: 4, silent: true, data: onBars(maFast), connectNulls: true, showSymbol: false, symbol: 'none',
     lineStyle: {color: '#b7cfcf', width: 1},
     markLine: {silent: true, symbol: 'none', z: 5, data: segMarks}
    },
    {name: 'volumes', type: 'custom', xAxisIndex: 1, yAxisIndex: 1, z: 3, silent: true, clip: true,
     data: volData, encode: {x: 0, y: 1},
     renderItem: function (params, api) {
       const i = api.value(0), v = api.value(1), up = api.value(2);
       const pT = api.coord([i, v]), pB = api.coord([i, 0]);
       const cx = Math.round(pT[0]);
       const t = Math.round(pT[1]), b = Math.round(pB[1]);
       return {type: 'rect', shape: {x: cx - 1, y: t, width: 3, height: Math.max(1, b - t)}, style: {fill: up ? '#1f6db5' : '#a2a2a2'}};
     },
     markLine: sepLine(1)
    },
    {name: 'MACD', type: 'line', xAxisIndex: 2, yAxisIndex: 2, z: 2, silent: true, data: onBars(macdMain), connectNulls: true, showSymbol: false, symbol: 'none',
     lineStyle: {width: 1, color: '#c0c0c0'}, areaStyle: {color: '#c0c0c0', opacity: 1, origin: 0},
     markLine: sepLine(1)
    },
    {name: 'Signal', type: 'line', xAxisIndex: 2, yAxisIndex: 2, z: 4, silent: true, data: onBars(macdSignal), connectNulls: true, showSymbol: false, symbol: 'none',
     lineStyle: {width: 1, color: '#3a5fdc'},
     markLine: {silent: true, symbol: 'none', z: 5, label: {show: false},
       data: [[{coord: macdDivergence[0], lineStyle: {color: '#ff1a1a', width: 1.5, type: 'solid'}}, {coord: macdDivergence[1]}]]}
    }
  ]
};
chart.setOption(option);
const shiftX = chart.convertToPixel({xAxisIndex: 0}, lastBar + 1);
chart.setOption({graphic: [{type: 'polygon', silent: true, z: 10, shape: {points: [[shiftX - 4, 2], [shiftX + 4, 2], [shiftX, 7]]}, style: {fill: '#a6a6a6'}}]});
</script>
</body></html>
